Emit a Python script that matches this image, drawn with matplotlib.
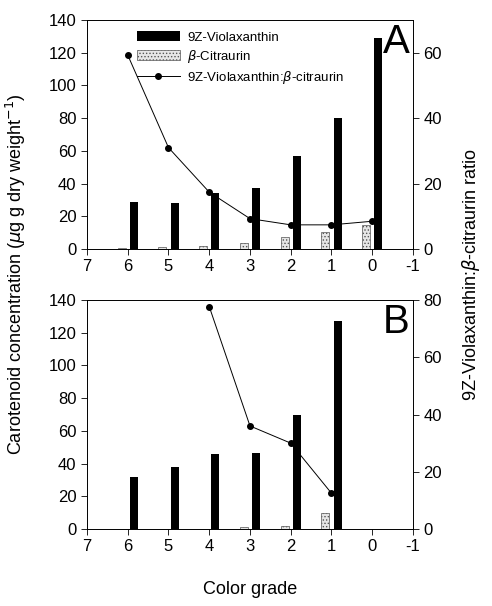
import matplotlib
matplotlib.use("Agg")
import matplotlib.pyplot as plt
import numpy as np

plt.rcParams['font.family'] = ['Liberation Sans', 'DejaVu Sans']
plt.rcParams['hatch.color'] = '#777777'
plt.rcParams['hatch.linewidth'] = 0.6

grades_a = [6, 5, 4, 3, 2, 1, 0]
viola_a = [29, 28, 34.5, 37.5, 57, 80, 129]
citra_a = [0.5, 1, 2, 4, 7.5, 10.5, 15]
ratio_a = [59.3, 31, 17.4, 9.3, 7.4, 7.4, 8.5]

grades_b = [6, 5, 4, 3, 2, 1]
viola_b = [32, 38, 46, 46.5, 70, 127]
citra_b = [0, 0, 0.3, 1, 2, 10]
ratio_grades_b = [4, 3, 2, 1]
ratio_b = [77.7, 36, 30, 12.5]

xticks = [7, 6, 5, 4, 3, 2, 1, 0, -1]

fig = plt.figure(figsize=(4.92, 6.06), dpi=100)
ax_a = fig.add_axes([0.1768, 0.589, 0.6626, 0.378])
ax_b = fig.add_axes([0.1768, 0.127, 0.6626, 0.378])

def panel(ax, grades, viola, citra, rg, ratio, rmax, rticks, letter, legend):
    g = np.array(grades, dtype=float)
    b1 = ax.bar(g - 0.15, viola, width=0.2, color='black', label='9Z-Violaxanthin', zorder=2)
    b2 = ax.bar(g + 0.15, citra, width=0.2, facecolor='#e6e6e6', edgecolor='#555555',
                linewidth=0.5, hatch='.....', label=r'$\beta$-Citraurin', zorder=2)
    ax.set_xlim(7, -1)
    ax.set_ylim(0, 140)
    ax.set_xticks(xticks)
    ax.set_xticklabels([str(t) for t in xticks])
    ax.set_yticks(range(0, 141, 20))
    ax.tick_params(direction='out', labelsize=12, length=4, width=0.6)
    for s in ax.spines.values():
        s.set_linewidth(0.6)
    ax2 = ax.twinx()
    ln, = ax2.plot(rg, ratio, color='black', marker='o', markersize=4, linewidth=0.7,
                   label=r'9Z-Violaxanthin:$\beta$-citraurin', zorder=3)
    ax2.set_ylim(0, rmax)
    ax2.set_yticks(rticks)
    ax2.tick_params(direction='out', labelsize=12, length=4, width=0.6)
    for s in ax2.spines.values():
        s.set_linewidth(0.6)
    ax2.text(0.99, 0.985, letter, transform=ax.transAxes, ha='right', va='top', fontsize=29)
    if legend:
        ax2.legend([b1, b2, ln], [h.get_label() for h in (b1, b2, ln)],
                   loc='upper left', bbox_to_anchor=(0.13, 0.985), frameon=False,
                   fontsize=9.5, handlelength=3.2, handletextpad=0.6,
                   labelspacing=0.3, borderaxespad=0.2)
    return ax2

panel(ax_a, grades_a, viola_a, citra_a, grades_a, ratio_a, 70, [0, 20, 40, 60], 'A', True)
panel(ax_b, grades_b, viola_b, citra_b, ratio_grades_b, ratio_b, 80, [0, 20, 40, 60, 80], 'B', False)

fig.text(0.033, 0.547, r'Carotenoid concentration ($\mu$g g dry weight$^{-1}$)',
         rotation=90, ha='center', va='center', fontsize=13)
fig.text(0.957, 0.547, r'9Z-Violaxanthin:$\beta$-citraurin ratio',
         rotation=90, ha='center', va='center', fontsize=13)
fig.text(0.508, 0.027, 'Color grade', ha='center', va='center', fontsize=13)

fig.savefig('out.png', dpi=100)
